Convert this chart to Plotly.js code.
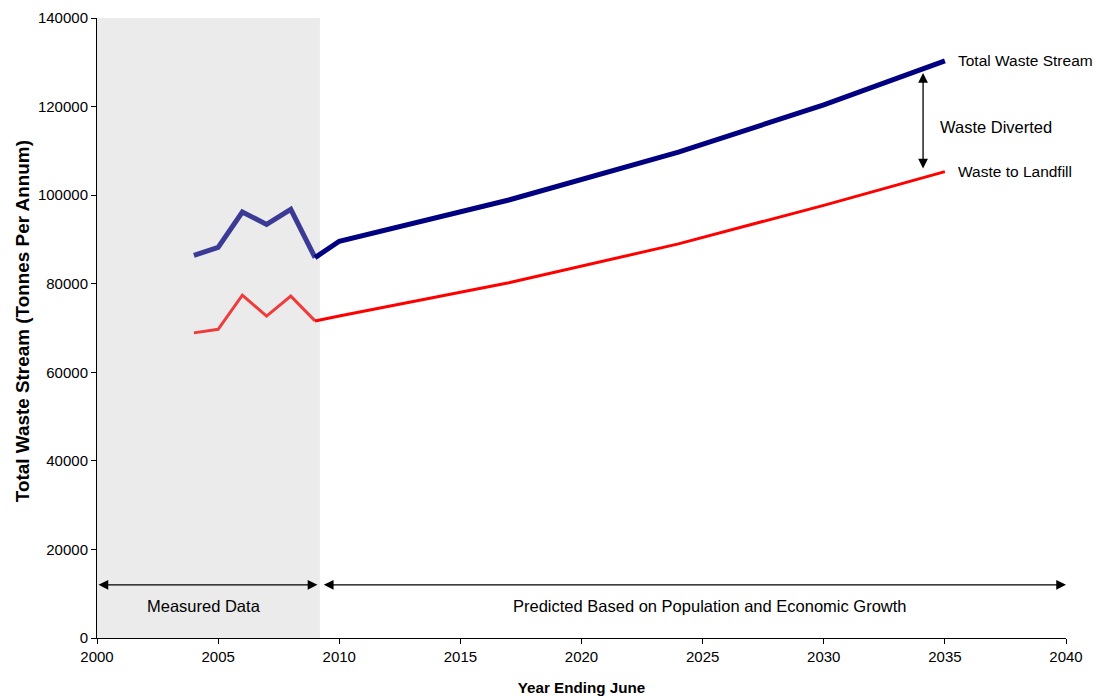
<!DOCTYPE html>
<html>
<head>
<meta charset="utf-8">
<script src="https://cdn.plot.ly/plotly-3.0.1.min.js"></script>
<style>
  html, body { margin: 0; padding: 0; background: #ffffff; }
  #chart { width: 1096px; height: 696px; }
</style>
</head>
<body>
<div id="chart"></div>
<script>
// Measured waste stream (year ending June)
const measuredYears = [2004, 2005, 2006, 2007, 2008, 2009];
const measuredTotal = [86400, 88200, 96200, 93400, 96800, 85900];
const measuredLandfill = [68900, 69700, 77400, 72700, 77200, 71600];

// Projection based on population and economic growth
const predictedYears = [2009, 2010, 2017, 2024, 2030, 2035];
const predictedTotal = [85900, 89600, 98900, 109700, 120400, 130300];
const predictedLandfill = [71600, 72700, 80200, 89000, 97700, 105300];

// Boundary between measured and predicted periods
const measuredStart = 2000;
const measuredEnd = 2009.2;
const axisEnd = 2040;

const xTicks = [2000, 2005, 2010, 2015, 2020, 2025, 2030, 2035, 2040];
const yTicks = [0, 20000, 40000, 60000, 80000, 100000, 120000, 140000];

const FONT = '"Liberation Sans", Arial, sans-serif';

const traces = [
  {
    x: measuredYears, y: measuredTotal, type: 'scatter', mode: 'lines',
    line: { color: '#3b3b96', width: 5 }, hoverinfo: 'skip'
  },
  {
    x: measuredYears, y: measuredLandfill, type: 'scatter', mode: 'lines',
    line: { color: '#ef3b3b', width: 3 }, hoverinfo: 'skip'
  },
  {
    x: predictedYears, y: predictedTotal, type: 'scatter', mode: 'lines',
    line: { color: '#000080', width: 5 }, hoverinfo: 'skip'
  },
  {
    x: predictedYears, y: predictedLandfill, type: 'scatter', mode: 'lines',
    line: { color: '#ff0000', width: 3 }, hoverinfo: 'skip'
  }
];

const lastTotal = predictedTotal[predictedTotal.length - 1];
const lastLandfill = predictedLandfill[predictedLandfill.length - 1];
const labelX = predictedYears[predictedYears.length - 1] + 0.45;
const dividerX = 2034.1;

function arrow(x0, y0, x1, y1) {
  return {
    x: x1, y: y1, ax: x0, ay: y0,
    xref: 'x', yref: 'y', axref: 'x', ayref: 'y',
    text: '', showarrow: true,
    arrowhead: 2, startarrowhead: 2, arrowside: 'end+start',
    arrowsize: 1.5, startarrowsize: 1.5, arrowwidth: 1.3, arrowcolor: '#000000',
    standoff: 0, startstandoff: 0
  };
}

function label(x, y, text, anchor, size) {
  return {
    x: x, y: y, xref: 'x', yref: 'y', text: text, showarrow: false,
    xanchor: anchor || 'center', yanchor: 'middle',
    font: { family: FONT, size: size || 16.5, color: '#000000' }
  };
}

const layout = {
  width: 1096, height: 696,
  margin: { l: 97, r: 30, t: 18, b: 58 },
  paper_bgcolor: '#ffffff', plot_bgcolor: '#ffffff',
  showlegend: false,
  font: { family: FONT, color: '#000000' },
  xaxis: {
    range: [2000, 2040], tickvals: xTicks, ticktext: xTicks.map(String),
    showgrid: false, zeroline: false,
    showline: true, linecolor: '#000000', linewidth: 1,
    ticks: 'outside', ticklen: 5, tickcolor: '#000000',
    tickfont: { family: FONT, size: 15, color: '#000000' },
    title: { text: 'Year Ending June', standoff: 18,
      font: { family: FONT, size: 15.2, color: '#000000', weight: 'bold' } },
    automargin: false
  },
  yaxis: {
    range: [0, 140000], tickvals: yTicks, ticktext: yTicks.map(String),
    showgrid: false, zeroline: false,
    showline: true, linecolor: '#000000', linewidth: 1,
    ticks: 'outside', ticklen: 5, tickcolor: '#000000',
    tickfont: { family: FONT, size: 15, color: '#000000' },
    automargin: false
  },
  shapes: [
    {
      type: 'rect', layer: 'below', xref: 'x', yref: 'y',
      x0: measuredStart, x1: measuredEnd, y0: 0, y1: 140000,
      fillcolor: '#ebebeb', line: { width: 0 }
    }
  ],
  annotations: [
    {
      xref: 'paper', yref: 'paper', x: -0.0774, y: 0.511,
      xanchor: 'center', yanchor: 'middle', textangle: -90, showarrow: false,
      text: '<b>Total Waste Stream (Tonnes Per Annum)</b>',
      font: { family: FONT, size: 18.9, color: '#000000' }
    },
    arrow(measuredStart, 12000, measuredEnd - 0.1, 12000),
    arrow(measuredEnd + 0.1, 12000, axisEnd, 12000),
    arrow(dividerX, 105700, dividerX, 127600),
    label(2004.4, 7200, 'Measured Data'),
    label(2025.3, 7200, 'Predicted Based on Population and Economic Growth'),
    label(labelX, lastTotal, 'Total Waste Stream', 'left', 15.5),
    label(labelX, lastLandfill, 'Waste to Landfill', 'left', 15.5),
    label(dividerX + 0.6, 115400, 'Waste Diverted', 'left')
  ]
};

Plotly.newPlot('chart', traces, layout, { staticPlot: true, displayModeBar: false });
</script>
</body>
</html>
